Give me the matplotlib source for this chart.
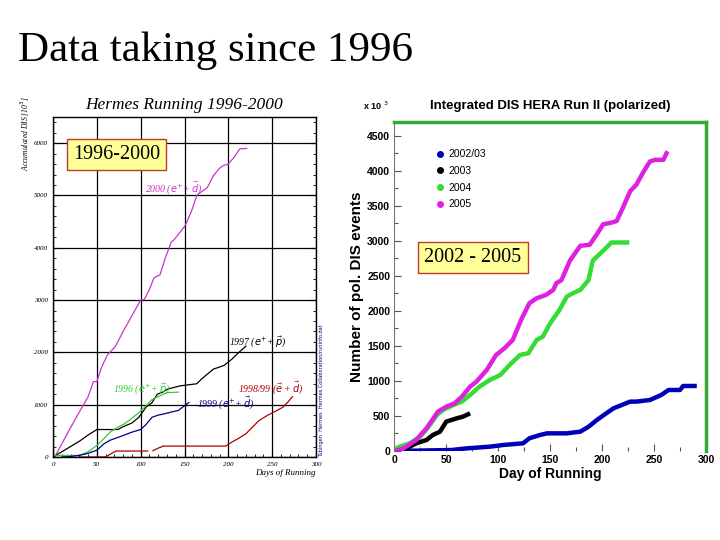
import matplotlib.pyplot as plt
from matplotlib.lines import Line2D
from matplotlib.ticker import MultipleLocator
import numpy as np

# ---- left panel: Hermes Running 1996-2000 (accumulated DIS, 10^3) ----
d2000 = [2, 10, 20, 30, 40, 46, 50, 55, 62, 71, 80, 90, 100, 104, 110, 115, 118, 122,
         128, 135, 138, 145, 151, 158, 164, 170, 176, 183, 190, 194, 200, 207, 213, 221]
n2000 = [0, 250, 560, 860, 1150, 1440, 1440, 1700, 1950, 2110, 2400, 2700, 3000, 3010,
         3200, 3420, 3450, 3480, 3800, 4110, 4150, 4300, 4430, 4700, 5000, 5080, 5150,
         5380, 5520, 5570, 5600, 5740, 5890, 5900]
d1997 = [0, 10, 20, 30, 40, 50, 74, 80, 90, 98, 106, 113, 119, 125, 131, 145, 164, 170,
         183, 195, 204, 212, 220]
n1997 = [0, 100, 200, 300, 420, 525, 525, 580, 650, 760, 950, 1040, 1200, 1240, 1300,
         1360, 1400, 1500, 1680, 1750, 1870, 2000, 2120]
d1996 = [0, 30, 40, 50, 58, 65, 73, 81, 90, 98, 105, 113, 122, 130, 143]
n1996 = [30, 30, 100, 220, 350, 475, 560, 630, 740, 850, 960, 1100, 1170, 1230, 1240]
d1999 = [10, 20, 30, 40, 50, 58, 65, 75, 90, 100, 106, 113, 120, 128, 135, 143, 150, 155]
n1999 = [0, 10, 30, 70, 130, 250, 320, 380, 475, 525, 620, 760, 800, 830, 860, 890, 980, 1040]
d1998 = [30, 60, 66, 72, 108, 111, 114, 120, 126, 197, 204, 212, 220, 228, 235, 245, 255,
         262, 268, 273]
n1998 = [0, 0, 60, 114, 114, np.nan, 120, 170, 209, 209, 285, 360, 443, 580, 696, 800, 886,
         949, 1050, 1152]

# ---- right panel: Integrated DIS HERA Run II (polarized), x 10^3 ----
d2005 = [0, 9, 21, 31, 42, 50, 58, 65, 73, 79, 89, 98, 106, 114, 122, 130, 137, 146, 153,
         156, 161, 169, 179, 188, 195, 201, 209, 214, 220, 227, 233, 240, 246, 251, 259, 262]
n2005 = [0, 38, 157, 324, 562, 633, 680, 776, 919, 990, 1157, 1371, 1466, 1585, 1870, 2109,
         2180, 2228, 2299, 2396, 2442, 2717, 2929, 2943, 3094, 3236, 3259, 3283, 3472, 3708,
         3802, 3990, 4132, 4156, 4156, 4250]
d2004 = [0, 5, 15, 25, 33, 41, 47, 57, 65, 73, 82, 92, 102, 111, 121, 129, 137, 143, 150,
         159, 166, 172, 179, 187, 191, 201, 209, 216, 224]
n2004 = [20, 62, 110, 205, 347, 514, 586, 657, 705, 800, 919, 1014, 1085, 1228, 1371, 1395,
         1585, 1633, 1823, 2014, 2204, 2252, 2299, 2442, 2717, 2858, 2976, 2976, 2976]
d2003 = [12, 21, 31, 37, 44, 50, 55, 60, 66, 71]
n2003 = [38, 110, 157, 228, 276, 419, 443, 466, 490, 524]
d0203 = [0, 55, 70, 92, 105, 124, 130, 140, 147, 166, 179, 187, 195, 204, 211, 219, 227,
         233, 246, 257, 264, 275, 278, 289]
n0203 = [0, 14, 38, 62, 86, 110, 181, 228, 252, 252, 276, 347, 443, 538, 609, 657, 705, 705,
         728, 800, 871, 871, 928, 928]

fig = plt.figure(figsize=(7.2, 5.4), dpi=100)
fig.patch.set_facecolor("white")

fig.text(18/720, 1 - 61/540, "Data taking since 1996", family="Liberation Serif",
         fontsize=31, ha="left", va="baseline")

# ---------------- left panel ----------------
serif_it = dict(family="Liberation Serif", style="italic")
ax1 = fig.add_axes([53/720, 1 - 457/540, 263/720, 340/540])
ax1.plot(d2000, n2000, color="#cc33cc", lw=0.9)
ax1.plot(d1997, n1997, color="black", lw=0.9)
ax1.plot(d1996, n1996, color="#33cc33", lw=0.9)
ax1.plot(d1999, n1999, color="#000080", lw=0.9)
ax1.plot(d1998, n1998, color="#b00000", lw=0.9)
ax1.set_xlim(0, 300)
ax1.set_ylim(0, 6500)
ax1.set_xticks(range(0, 301, 50))
ax1.set_yticks(range(0, 6001, 1000))
ax1.xaxis.set_minor_locator(MultipleLocator(10))
ax1.yaxis.set_minor_locator(MultipleLocator(200))
ax1.grid(True, which="major", color="black", lw=0.9)
ax1.tick_params(which="both", direction="in", top=False, right=True, labelsize=5)
ax1.tick_params(which="major", length=4)
ax1.tick_params(which="minor", length=2)
for lab in ax1.get_xticklabels() + ax1.get_yticklabels():
    lab.set_fontstyle("italic")
    lab.set_family("Liberation Serif")
for s in ax1.spines.values():
    s.set_linewidth(1.0)
ax1.set_title("Hermes Running 1996-2000", fontsize=12.5, pad=6, **serif_it)
ax1.text(-0.105, 1.06, "Accumulated DIS [10$^3$]", transform=ax1.transAxes, rotation=90,
         ha="center", va="top", fontsize=5.5, **serif_it)
ax1.text(1.0, -0.035, "Days of Running", transform=ax1.transAxes, ha="right", va="top",
         fontsize=6.5, **serif_it)
ax1.text(1.012, 0.0, "Tübingen  Hermes  Hermes Collaboration/runinfo.dat",
         transform=ax1.transAxes, rotation=90, ha="left", va="bottom", fontsize=3.6,
         color="#000080")

ax1.text(105, 5080, r"2000 ($e^{+}$+ $\vec{d}$)", color="#cc33cc", fontsize=7, **serif_it)
ax1.text(201, 2150, r"1997 ($e^{+}$+ $\vec{p}$)", color="black", fontsize=7, **serif_it)
ax1.text(68, 1250, r"1996 ($e^{+}$+ $\vec{p}$)", color="#33cc33", fontsize=7, **serif_it)
ax1.text(164, 960, r"1999 ($e^{+}$+ $\vec{d}$)", color="#000080", fontsize=7, **serif_it)
ax1.text(211, 1250, r"1998/99 ($\vec{e}$ + $\vec{d}$)", color="#b00000", fontsize=7,
         **serif_it)

ax1.text(0.241, 0.89, "1996-2000", transform=ax1.transAxes, ha="center", va="center",
         family="Liberation Serif", fontsize=14.5,
         bbox=dict(boxstyle="square,pad=0.3", facecolor="#ffff99", edgecolor="#c0392b",
                   lw=1.0))

# ---------------- right panel ----------------
sans = "Liberation Sans"
ax2 = fig.add_axes([394.3/720, 1 - 451/540, 311.7/720, 329.3/540])
ax2.plot(d0203, n0203, color="#0000bb", lw=3.2, solid_joinstyle="round")
ax2.plot(d2003, n2003, color="black", lw=3.2, solid_joinstyle="round")
ax2.plot(d2004, n2004, color="#33dd33", lw=3.2, solid_joinstyle="round")
ax2.plot(d2005, n2005, color="#e020e0", lw=3.2, solid_joinstyle="round")
ax2.set_xlim(0, 300)
ax2.set_ylim(0, 4700)
ax2.set_xticks(range(0, 301, 50))
ax2.set_yticks(range(0, 4501, 500))
ax2.xaxis.set_minor_locator(MultipleLocator(25))
ax2.yaxis.set_minor_locator(MultipleLocator(250))
ax2.tick_params(which="both", direction="in", color="#555555", width=0.8)
ax2.tick_params(which="major", length=5, labelsize=7.5, pad=3)
ax2.tick_params(which="minor", length=3)
for lab in ax2.get_xticklabels() + ax2.get_yticklabels():
    lab.set_fontweight("bold")
    lab.set_family(sans)
ax2.spines["top"].set_color("#33aa33")
ax2.spines["top"].set_linewidth(2.5)
ax2.spines["right"].set_color("#33aa33")
ax2.spines["right"].set_linewidth(2.5)
ax2.spines["left"].set_color("#777777")
ax2.spines["left"].set_linewidth(0.8)
ax2.spines["bottom"].set_visible(False)
ax2.set_title("Integrated DIS HERA Run II (polarized)", fontsize=9.5, fontweight="bold",
              family=sans, pad=9)
ax2.set_xlabel("Day of Running", fontsize=10, fontweight="bold", family=sans, labelpad=1)
ax2.set_ylabel("Number of pol. DIS events", fontsize=11, fontweight="bold", family=sans,
               labelpad=2)
ax2.text(-0.1, 1.03, r"x 10 $^{3}$", transform=ax2.transAxes, fontsize=6.5,
         fontweight="bold", family=sans, ha="left", va="bottom")

handles = [Line2D([], [], ls="none", marker="o", ms=4, color=c)
           for c in ["#0000bb", "black", "#33dd33", "#e020e0"]]
ax2.legend(handles, ["2002/03", "2003", "2004", "2005"], loc="upper left",
           bbox_to_anchor=(0.1, 0.945), frameon=False, handletextpad=0.3,
           labelspacing=0.65, prop=dict(family=sans, size=7.5), handlelength=1.0)

ax2.text(0.2525, 0.589, "2002 - 2005", transform=ax2.transAxes, ha="center", va="center",
         family="Liberation Serif", fontsize=14.5,
         bbox=dict(boxstyle="square,pad=0.3", facecolor="#ffff99", edgecolor="#c0392b",
                   lw=1.0))

fig.savefig("out.png", dpi=100)
